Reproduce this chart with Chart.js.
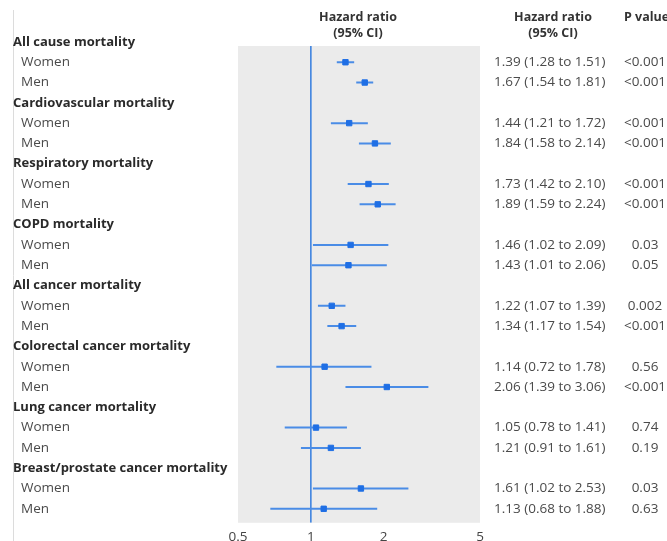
<!DOCTYPE html>
<html>
<head>
<meta charset="utf-8">
<script src="https://cdn.jsdelivr.net/npm/chart.js@4.4.1/dist/chart.umd.min.js"></script>
<style>
html,body{margin:0;padding:0;background:#fff;}
#wrap{width:667px;height:541px;position:relative;}
</style>
</head>
<body>
<div id="wrap"><canvas id="c" width="667" height="541"></canvas></div>
<script>
// ---- Data ----
const groups = ["All cause mortality","Cardiovascular mortality","Respiratory mortality","COPD mortality","All cancer mortality","Colorectal cancer mortality","Lung cancer mortality","Breast/prostate cancer mortality"];
const subgroups = ["Women","Men"];
const hr   = [1.39,1.67, 1.44,1.84, 1.73,1.89, 1.46,1.43, 1.22,1.34, 1.14,2.06, 1.05,1.21, 1.61,1.13];
const lower= [1.28,1.54, 1.21,1.58, 1.42,1.59, 1.02,1.01, 1.07,1.17, 0.72,1.39, 0.78,0.91, 1.02,0.68];
const upper= [1.51,1.81, 1.72,2.14, 2.10,2.24, 2.09,2.06, 1.39,1.54, 1.78,3.06, 1.41,1.61, 2.53,1.88];
const pvals= ["<0.001","<0.001","<0.001","<0.001","<0.001","<0.001","0.03","0.05","0.002","<0.001","0.56","<0.001","0.74","0.19","0.03","0.63"];
const xTicks = [0.5,1,2,5];

const fmt = v => v.toFixed(2);
const FONT = "'Open Sans', 'Noto Sans', sans-serif";
const BLUE_PT = '#1f6fe5';
const BLUE_LN = '#4a8ce6';

// row index for each data item: group g -> header row 3g, women 3g+1, men 3g+2
const rowOf = i => Math.floor(i/2)*3 + 1 + (i%2);

const datasets = [];
// reference line at HR = 1
datasets.push({type:'line', data:[{x:1,y:0.2},{x:1,y:23.69}], borderColor:'#3f84e0', borderWidth:1.6, pointRadius:0, order:3});
// confidence intervals
hr.forEach((v,i)=>{
  datasets.push({type:'line', data:[{x:lower[i],y:rowOf(i)},{x:upper[i],y:rowOf(i)}], borderColor:BLUE_LN, borderWidth:2, pointRadius:0, order:2});
});
// point estimates
datasets.push({type:'scatter', data:hr.map((v,i)=>({x:v,y:rowOf(i)})), backgroundColor:BLUE_PT, borderColor:BLUE_PT, borderWidth:1, pointStyle:'rect', pointRadius:3.8, order:1});

const textPlugin = {
  id:'texts',
  beforeDraw(chart){
    const {ctx, chartArea:a} = chart;
    ctx.save();
    ctx.fillStyle = '#ebebeb';
    ctx.fillRect(a.left, a.top, a.right-a.left, a.bottom-a.top);
    // faint left rule
    ctx.strokeStyle = '#dcdcdc'; ctx.lineWidth = 1;
    ctx.beginPath(); ctx.moveTo(13.5, 10); ctx.lineTo(13.5, 541); ctx.stroke();
    ctx.restore();
  },
  afterDraw(chart){
    const {ctx} = chart;
    const y = chart.scales.y;
    ctx.save();
    ctx.textBaseline = 'middle';
    // headers
    ctx.font = "bold 12.5px " + FONT;
    ctx.fillStyle = '#333';
    ctx.textAlign = 'center';
    ctx.fillText('Hazard ratio', 358, 17);
    ctx.fillText('(95% CI)', 358, 33);
    ctx.fillText('Hazard ratio', 553, 17);
    ctx.fillText('(95% CI)', 553, 33);
    ctx.textAlign = 'left';
    ctx.fillText('P value', 624, 17);
    // group labels
    groups.forEach((g,gi)=>{
      ctx.font = "bold 13px " + FONT;
      ctx.fillStyle = '#2a2a2a';
      ctx.textAlign = 'left';
      ctx.fillText(g, 13, y.getPixelForValue(gi*3));
    });
    hr.forEach((v,i)=>{
      const py = y.getPixelForValue(rowOf(i));
      ctx.font = "13.5px " + FONT;
      ctx.fillStyle = '#4a4a4a';
      ctx.textAlign = 'left';
      ctx.fillText(subgroups[i%2], 21, py);
      ctx.fillText(fmt(v) + ' (' + fmt(lower[i]) + ' to ' + fmt(upper[i]) + ')', 494, py);
      ctx.textAlign = 'center';
      ctx.fillText(pvals[i], 645, py);
    });
    ctx.restore();
  }
};

new Chart(document.getElementById('c'), {
  data:{datasets},
  options:{
    responsive:false,
    animation:false,
    layout:{padding:{left:238, right:187, top:46, bottom:-10}},
    plugins:{legend:{display:false}, tooltip:{enabled:false}},
    scales:{
      x:{type:'logarithmic', min:0.5, max:5, position:'bottom',
         grid:{display:false, drawTicks:false}, border:{display:false},
         afterBuildTicks(s){ s.ticks = xTicks.map(v=>({value:v})); },
         ticks:{padding:6, color:'#444', font:{family:FONT, size:13.5}, autoSkip:false, maxRotation:0,
                callback:(v)=> String(v)}},
      y:{type:'linear', min:0.2, max:23.69, reverse:true, display:false}
    }
  },
  plugins:[textPlugin]
});
</script>
</body>
</html>
